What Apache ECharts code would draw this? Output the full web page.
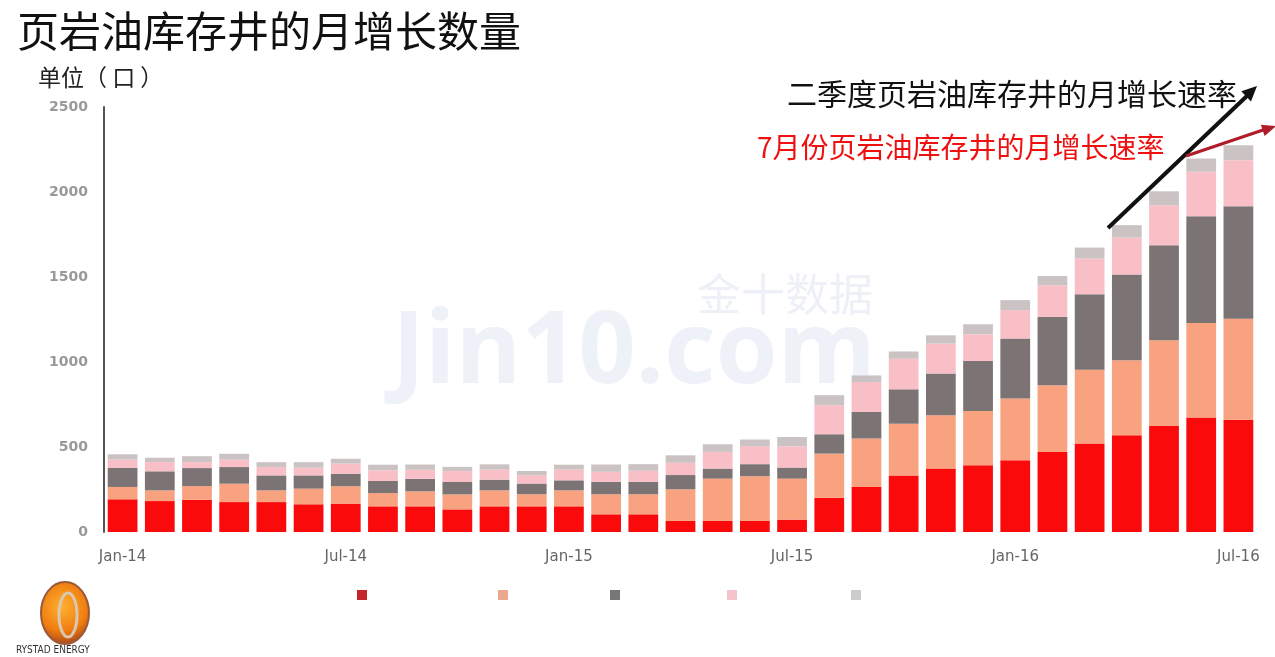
<!DOCTYPE html>
<html>
<head>
<meta charset="utf-8">
<script src="https://cdn.jsdelivr.net/npm/echarts@6/dist/echarts.min.js"></script>
<style>
html,body{margin:0;padding:0;background:#fff;}
#c{width:1275px;height:657px;}
</style>
</head>
<body>
<div id="c"></div>
<script>
var months = ['Jan-14','Feb-14','Mar-14','Apr-14','May-14','Jun-14','Jul-14','Aug-14','Sep-14','Oct-14','Nov-14','Dec-14',
  'Jan-15','Feb-15','Mar-15','Apr-15','May-15','Jun-15','Jul-15','Aug-15','Sep-15','Oct-15','Nov-15','Dec-15',
  'Jan-16','Feb-16','Mar-16','Apr-16','May-16','Jun-16','Jul-16'];
var seriesNames = ['类别1','类别2','类别3','类别4','类别5'];
var redVals    = [192,182,190,176,176,163,167,151,151,133,151,151,151,104,104,65,65,65,73,202,265,333,373,392,422,471,520,569,624,673,661];
var salmonVals = [73,63,80,108,69,92,102,78,88,88,94,71,94,118,118,186,249,263,241,259,285,304,314,320,363,392,435,441,504,557,594];
var grayVals   = [112,112,106,98,88,78,74,71,74,73,63,63,59,73,73,84,59,71,65,114,156,202,245,294,353,402,443,504,559,628,661];
var pinkVals   = [49,55,35,43,49,45,59,63,53,65,59,49,63,59,65,72,98,106,125,171,176,180,176,157,167,186,210,218,235,261,271];
var lgrayVals  = [31,25,35,35,29,33,29,33,31,24,31,25,29,43,39,44,45,39,55,59,39,43,49,59,59,55,65,73,82,78,88];
var yTicks = [0,500,1000,1500,2000,2500];

var colors = ['#fa0a0a','#f8a27f','#7c7374','#f8bfc7','#cbc3c3'];
var legendColors = ['#c4262c','#eaa98c','#777777','#f4c3cc','#cccccc'];
var legendX = [352,493,605,722,846];
var allVals = [redVals,salmonVals,grayVals,pinkVals,lgrayVals];

var chart = echarts.init(document.getElementById('c'));
var cjk = '"Noto Sans CJK SC", sans-serif';

var series = allVals.map(function(v,i){
  return {
    name: seriesNames[i], type:'bar', stack:'total', data:v,
    barWidth:'80%',
    itemStyle:{color:colors[i]},
    animation:false
  };
});

var legends = seriesNames.map(function(n,i){
  return {
    data:[{name:n, itemStyle:{color:legendColors[i]}}],
    left:legendX[i], top:585, itemWidth:10, itemHeight:10,
    icon:'rect', formatter:function(){return '';},
    selectedMode:false
  };
});

function arrowHead(tip, from, len, hw){
  var dx = tip[0]-from[0], dy = tip[1]-from[1];
  var L = Math.sqrt(dx*dx+dy*dy); dx/=L; dy/=L;
  var bx = tip[0]-len*dx, by = tip[1]-len*dy;
  var nx = -dy, ny = dx;
  return [[tip[0],tip[1]],[bx+hw*nx,by+hw*ny],[bx-hw*nx,by-hw*ny]];
}

var option = {
  backgroundColor:'#ffffff',
  animation:false,
  legend: legends,
  grid:{left:104, right:18, top:107, bottom:125, containLabel:false},
  xAxis:{
    type:'category', data:months,
    axisLine:{show:false}, axisTick:{show:false},
    axisLabel:{interval:5, color:'#666', fontSize:15, fontFamily:'DejaVu Sans', margin:18}
  },
  yAxis:{
    type:'value', min:yTicks[0], max:yTicks[yTicks.length-1], interval:500,
    axisLine:{show:true, lineStyle:{color:'#555', width:2}},
    axisTick:{show:false}, splitLine:{show:false},
    axisLabel:{color:'#999', fontSize:14, fontWeight:'bold', fontFamily:'DejaVu Sans', margin:16,
      formatter:function(v){return String(v);}}
  },
  series: series,
  graphic:[
    {type:'text', left:17, top:10, style:{text:'页岩油库存井的月增长数量', font:'42px '+cjk, fill:'#111'}},
    {type:'text', left:38, top:66, style:{text:'单位（ 口 ）', font:'23px '+cjk, fill:'#222'}},
    {type:'text', left:697, top:272, z:-1, style:{text:'金十数据', font:'44px '+cjk, fill:'#edf0f7'}},
    {type:'text', left:392, top:305, z:-1, style:{text:'Jin10.com', font:'bold 100px "Open Sans", sans-serif', fill:'#eef1f8'}},
    {type:'text', left:787, top:79, style:{text:'二季度页岩油库存井的月增长速率', font:'30px '+cjk, fill:'#111'}},
    {type:'text', left:757, top:133, style:{text:'7月份页岩油库存井的月增长速率', font:'28px '+cjk, fill:'#f01010'}},
    {type:'line', shape:{x1:1108,y1:228,x2:1249,y2:94}, style:{stroke:'#111', lineWidth:4}, z:10},
    {type:'polygon', shape:{points:arrowHead([1257,86],[1108,228],15,7)}, style:{fill:'#111'}, z:10},
    {type:'line', shape:{x1:1186,y1:156,x2:1266,y2:129}, style:{stroke:'#b01c2a', lineWidth:3}, z:10},
    {type:'polygon', shape:{points:arrowHead([1276,126],[1186,156],14,6)}, style:{fill:'#b01c2a'}, z:10},
    {type:'ellipse', shape:{cx:65, cy:613, rx:24, ry:31},
      style:{fill:new echarts.graphic.RadialGradient(0.45,0.4,0.7,[{offset:0,color:'#ffb030'},{offset:0.7,color:'#f07d10'},{offset:1,color:'#b8541a'}]), stroke:'#9a5a3a', lineWidth:2}},
    {type:'ellipse', shape:{cx:68, cy:615, rx:9, ry:22}, style:{fill:'none', stroke:'#d9c7b0', lineWidth:3}},
    {type:'text', left:16, top:645, style:{text:'RYSTAD ENERGY', font:'10px "DejaVu Sans Condensed", sans-serif', fill:'#333'}}
  ]
};
chart.setOption(option);
</script>
</body>
</html>
